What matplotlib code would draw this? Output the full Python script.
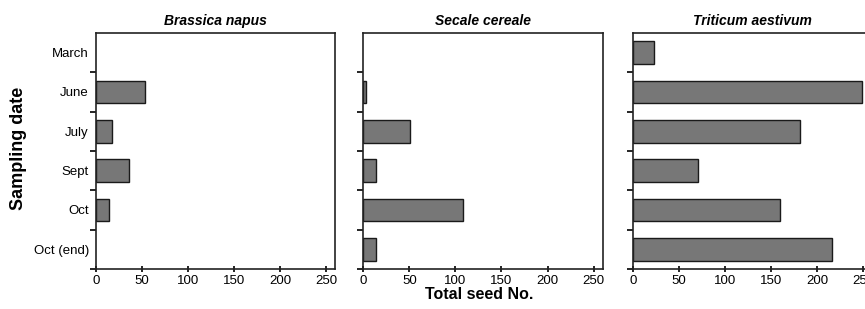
import matplotlib
matplotlib.use("Agg")
import matplotlib.pyplot as plt
import numpy as np

categories = ["March", "June", "July", "Sept", "Oct", "Oct (end)"]
species = ["Brassica napus", "Secale cereale", "Triticum aestivum"]
brassica = [0, 54, 18, 36, 14, 0]
secale = [0, 3, 51, 14, 108, 14]
triticum = [23, 249, 182, 71, 160, 216]
series = [brassica, secale, triticum]
xticks = [0, 50, 100, 150, 200, 250]

plt.rcParams['font.family'] = ['Liberation Sans', 'DejaVu Sans']

W, H = 865, 309
fig = plt.figure(figsize=(W / 100, H / 100), dpi=100)

lefts = [95.7, 363.3, 632.7]
ax_w = 239.5
top, bottom = 33, 269
y = np.arange(len(categories))

for i, (left, vals, name) in enumerate(zip(lefts, series, species)):
    ax = fig.add_axes([left / W, 1 - bottom / H, ax_w / W, (bottom - top) / H])
    lws = [1.0 if v > 0 else 0.0 for v in vals]
    ax.barh(y, vals, height=0.57, color="#777777", edgecolor="#1a1a1a", linewidth=lws)
    ax.set_xlim(0, 260)
    ax.set_ylim(len(categories) - 0.5, -0.5)
    ax.set_xticks(xticks)
    ax.set_xticklabels([str(t) for t in xticks], fontsize=9.5)
    ax.set_yticks(y)
    if i == 0:
        ax.set_yticklabels(categories, fontsize=9.5)
    else:
        ax.set_yticklabels([])
    ax.tick_params(axis='y', which='major', length=0, pad=5)
    ax.set_yticks(y + 0.5, minor=True)
    ax.tick_params(axis='y', which='minor', length=4, width=1.2, direction='out')
    ax.tick_params(axis='x', which='major', length=4, width=1.2, direction='inout', pad=2)
    for s in ax.spines.values():
        s.set_linewidth(1.2)
        s.set_color("#222222")
    ax.set_title(name, fontsize=10, fontweight='bold', style='italic', pad=6)

fig.text(19 / W, 1 - 148 / H, "Sampling date", rotation=90, ha='center', va='center',
         fontsize=13, fontweight='bold')
fig.text(479 / W, 1 - 299 / H, "Total seed No.", ha='center', va='baseline',
         fontsize=11.5, fontweight='bold')

fig.savefig("out.png", dpi=100)
